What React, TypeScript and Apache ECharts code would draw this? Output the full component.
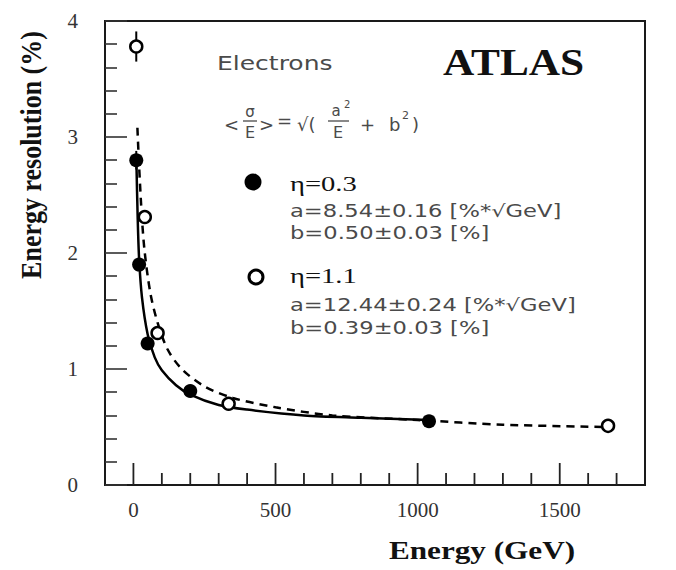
import React, { useEffect, useRef } from "react";
import * as echarts from "echarts";

// Measured points (eta = 0.3, filled) and (eta = 1.1, open)
const filledEnergy = [10, 20, 50, 200, 1040];
const filledRes = [2.8, 1.9, 1.22, 0.81, 0.55];
const filledErr = [0.08, 0.05, 0.04, 0.03, 0.02];
const openEnergy = [10, 40, 85, 335, 1670];
const openRes = [3.78, 2.31, 1.31, 0.7, 0.51];
const openErr = [0.13, 0.06, 0.05, 0.04, 0.03];

// Fit curves
const fitSolidE = [10, 15, 20, 30, 50, 75, 100, 150, 200, 300, 400, 600, 800, 1040];
const fitSolidR = [2.85, 2.3, 1.95, 1.62, 1.3, 1.1, 0.99, 0.86, 0.78, 0.69, 0.65, 0.6, 0.58, 0.56];
const fitDashE = [14, 20, 30, 40, 60, 85, 120, 170, 250, 350, 500, 700, 1000, 1300, 1670];
const fitDashR = [3.08, 2.75, 2.3, 2.0, 1.65, 1.4, 1.17, 1.0, 0.85, 0.75, 0.67, 0.6, 0.56, 0.52, 0.5];

// Axis ticks / labels
const xMajorTicks = [0, 500, 1000, 1500];
const xMinorTicks = [100, 200, 300, 400, 600, 700, 800, 900, 1100, 1200, 1300, 1400, 1600, 1700];
const xLabelValues = [0, 500, 1000, 1500];

const SANS = "DejaVu Sans";
const SERIF = "Liberation Serif";

function txt(text: string, x: number, y: number, o: any = {}) {
  return {
    type: "text",
    x,
    y,
    scaleX: o.scaleX ?? 1,
    scaleY: o.scaleY ?? 1,
    rotation: o.rotation ?? 0,
    z: 10,
    style: {
      text,
      fontSize: o.fontSize ?? 16,
      fontFamily: o.fontFamily ?? SANS,
      fontWeight: o.fontWeight ?? "normal",
      fill: o.fill ?? "#4a4a4a",
      align: o.align ?? "left",
      verticalAlign: o.verticalAlign ?? "middle",
    },
  };
}

function hline(x1: number, x2: number, y: number) {
  return {
    type: "line",
    z: 10,
    shape: { x1, y1: y, x2, y2: y },
    style: { stroke: "#4a4a4a", lineWidth: 1.3 },
  };
}

export default function App() {
  const ref = useRef<HTMLDivElement>(null);

  useEffect(() => {
    if (!ref.current) return;
    const chart = echarts.init(ref.current, null, { renderer: "svg" });

    const errData = [
      ...filledEnergy.map((e, i) => [e, filledRes[i], filledErr[i]]),
      ...openEnergy.map((e, i) => [e, openRes[i], openErr[i]]),
    ];

    const tickRender = (len: number) => (params: any, api: any) => {
      const p = api.coord([api.value(0), 0]);
      return {
        type: "line",
        shape: { x1: p[0], y1: p[1], x2: p[0], y2: p[1] - len },
        style: { stroke: "#222", lineWidth: 1.8 },
      };
    };

    const option: any = {
      animation: false,
      backgroundColor: "#ffffff",
      grid: {
        left: 105,
        right: 31,
        top: 21,
        bottom: 85,
        show: true,
        borderColor: "#1a1a1a",
        borderWidth: 2,
        backgroundColor: "transparent",
      },
      xAxis: {
        type: "value",
        min: -100,
        max: 1800,
        interval: 100,
        axisLine: { show: true, onZero: false, lineStyle: { color: "#1a1a1a", width: 2 } },
        axisTick: { show: false },
        splitLine: { show: false },
        axisLabel: {
          margin: 14,
          fontSize: 21,
          fontFamily: SERIF,
          color: "#333",
          formatter: (v: number) => (xLabelValues.indexOf(v) >= 0 ? String(v) : ""),
        },
      },
      yAxis: {
        type: "value",
        min: 0,
        max: 4,
        interval: 1,
        axisLine: { show: true, onZero: false, lineStyle: { color: "#1a1a1a", width: 2 } },
        axisTick: { show: true, inside: true, length: 22, lineStyle: { color: "#333", width: 1.6 } },
        minorTick: { show: true, splitNumber: 5, length: 12, lineStyle: { color: "#333", width: 1.6 } },
        splitLine: { show: false },
        minorSplitLine: { show: false },
        axisLabel: {
          margin: 27,
          fontSize: 21,
          fontFamily: SERIF,
          color: "#333",
        },
      },
      series: [
        {
          type: "line",
          name: "fit eta=0.3",
          data: fitSolidE.map((e, i) => [e, fitSolidR[i]]),
          showSymbol: false,
          smooth: 0.3,
          lineStyle: { color: "#000", width: 2.5 },
          z: 2,
        },
        {
          type: "line",
          name: "fit eta=1.1",
          data: fitDashE.map((e, i) => [e, fitDashR[i]]),
          showSymbol: false,
          smooth: 0.3,
          lineStyle: { color: "#000", width: 2.5, type: [8, 6] },
          z: 2,
        },
        {
          type: "custom",
          name: "errors",
          data: errData,
          z: 3,
          renderItem: (params: any, api: any) => {
            const x = api.value(0);
            const y = api.value(1);
            const e = api.value(2);
            const top = api.coord([x, y + e]);
            const bot = api.coord([x, y - e]);
            return {
              type: "line",
              shape: { x1: top[0], y1: top[1], x2: bot[0], y2: bot[1] },
              style: { stroke: "#000", lineWidth: 2 },
            };
          },
        },
        {
          type: "custom",
          name: "x major ticks",
          data: xMajorTicks.map((v) => [v, 0]),
          z: 3,
          silent: true,
          renderItem: tickRender(22),
        },
        {
          type: "custom",
          name: "x minor ticks",
          data: xMinorTicks.map((v) => [v, 0]),
          z: 3,
          silent: true,
          renderItem: tickRender(12),
        },
        {
          type: "scatter",
          name: "eta=0.3",
          data: filledEnergy.map((e, i) => [e, filledRes[i]]),
          symbol: "circle",
          symbolSize: 14,
          itemStyle: { color: "#000", opacity: 1 },
          z: 5,
        },
        {
          type: "scatter",
          name: "eta=1.1",
          data: openEnergy.map((e, i) => [e, openRes[i]]),
          symbol: "circle",
          symbolSize: 12,
          itemStyle: { color: "#fff", borderColor: "#000", borderWidth: 2.5, opacity: 1 },
          z: 6,
        },
      ],
      graphic: [
        // axis titles
        txt("Energy (GeV)", 482, 550, {
          fontSize: 26, fontFamily: SERIF, fontWeight: "bold", fill: "#111", align: "center", scaleX: 1.2,
        }),
        txt("Energy resolution (%)", 31, 155, {
          fontSize: 26, fontFamily: SERIF, fontWeight: "bold", fill: "#111", align: "center",
          rotation: Math.PI / 2, scaleY: 1.15,
        }),
        // header texts
        txt("Electrons", 217, 63, { fontSize: 20, scaleX: 1.25 }),
        txt("ATLAS", 443, 62, { fontSize: 38, fontFamily: SERIF, fontWeight: "bold", fill: "#111", scaleX: 1.14 }),
        // formula  <σ/E> = √(a²/E + b²)
        txt("<", 224, 124, { fontSize: 18 }),
        txt("σ", 250, 112, { fontSize: 15, align: "center" }),
        hline(243, 257, 121),
        txt("E", 250, 132, { fontSize: 16, align: "center" }),
        txt(">", 259, 124, { fontSize: 18 }),
        txt("=", 277, 120, { fontSize: 18 }),
        txt("√(", 297, 124, { fontSize: 18 }),
        txt("a", 336, 111, { fontSize: 15, align: "center" }),
        txt("2", 344, 104, { fontSize: 10 }),
        hline(328, 349, 121),
        txt("E", 338, 132, { fontSize: 16, align: "center" }),
        txt("+", 360, 124, { fontSize: 18 }),
        txt("b", 389, 124, { fontSize: 18 }),
        txt("2", 402, 115, { fontSize: 11 }),
        txt(")", 412, 124, { fontSize: 18 }),
        // legend block 1
        { type: "circle", z: 10, shape: { cx: 253, cy: 182, r: 8.5 }, style: { fill: "#000" } },
        txt("η=0.3", 290, 184, { fontSize: 22, fontFamily: SERIF, fill: "#111", scaleX: 1.3 }),
        txt("a=8.54±0.16 [%*√GeV]", 290, 211, { fontSize: 17, scaleX: 1.33 }),
        txt("b=0.50±0.03 [%]", 290, 233, { fontSize: 17, scaleX: 1.33 }),
        // legend block 2
        {
          type: "circle", z: 10, shape: { cx: 256, cy: 277, r: 7 },
          style: { fill: "#fff", stroke: "#000", lineWidth: 3 },
        },
        txt("η=1.1", 290, 276, { fontSize: 22, fontFamily: SERIF, fill: "#111", scaleX: 1.3 }),
        txt("a=12.44±0.24 [%*√GeV]", 290, 305, { fontSize: 17, scaleX: 1.33 }),
        txt("b=0.39±0.03 [%]", 290, 328, { fontSize: 17, scaleX: 1.33 }),
      ],
    };

    chart.setOption(option);
    return () => chart.dispose();
  }, []);

  return (
    <div
      ref={ref}
      style={{ position: "fixed", left: 0, top: 0, width: 676, height: 570, background: "#fff" }}
    />
  );
}
